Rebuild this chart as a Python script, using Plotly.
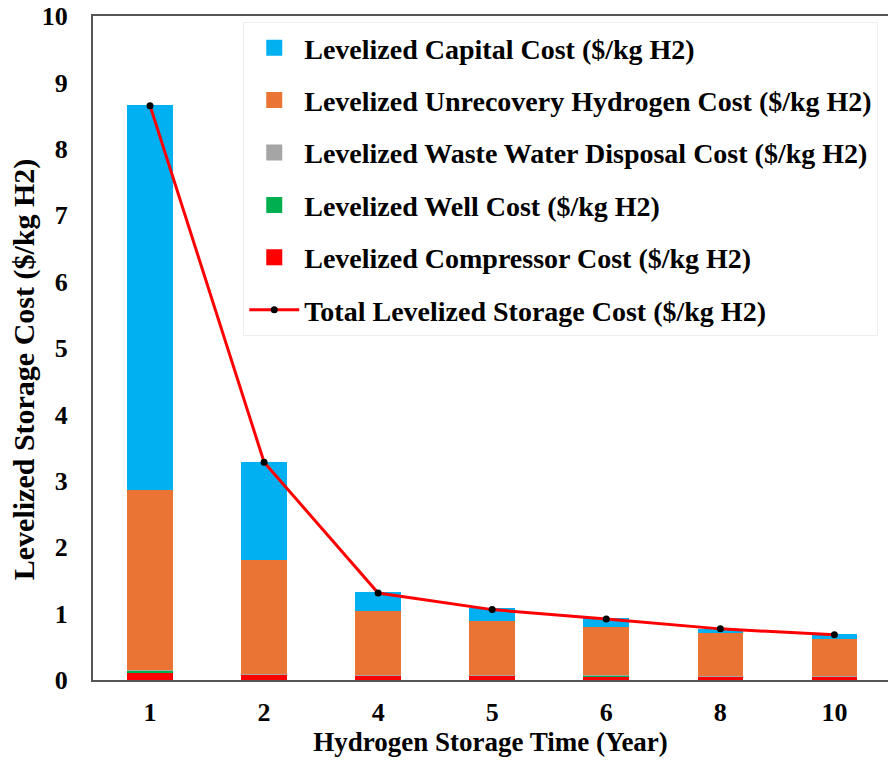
import plotly.graph_objects as go

years = ["1", "2", "4", "5", "6", "8", "10"]
capital = [5.81, 1.48, 0.28, 0.19, 0.14, 0.07, 0.07]
unrecovery = [2.71, 1.72, 0.97, 0.82, 0.73, 0.65, 0.57]
waste_water = [0.005, 0.003, 0.002, 0.002, 0.002, 0.002, 0.002]
well = [0.02, 0.005, 0.005, 0.003, 0.008, 0.003, 0.003]
compressor = [0.12, 0.08, 0.065, 0.065, 0.06, 0.05, 0.05]
total = [8.65, 3.28, 1.31, 1.06, 0.92, 0.77, 0.68]

FONT = "Liberation Serif"

fig = go.Figure()
series = [
    ("Levelized Compressor Cost ($/kg H2)", compressor, "#FF0000", 5),
    ("Levelized Well Cost ($/kg H2)", well, "#00B050", 4),
    ("Levelized Waste Water Disposal Cost ($/kg H2)", waste_water, "#A5A5A5", 3),
    ("Levelized Unrecovery Hydrogen Cost ($/kg H2)", unrecovery, "#E97434", 2),
    ("Levelized Capital Cost ($/kg H2)", capital, "#00B0F0", 1),
]
for name, vals, col, rank in series:
    fig.add_trace(go.Bar(
        x=years, y=vals, name=name, marker=dict(color=col, line=dict(width=0)),
        width=0.4, showlegend=False, legendgroup=name,
    ))
    # legend entry with a larger square swatch
    fig.add_trace(go.Scatter(
        x=[None], y=[None], name=name, mode="markers",
        marker=dict(symbol="square", color=col, size=16),
        legendrank=rank, legendgroup=name, showlegend=True,
    ))
fig.add_trace(go.Scatter(
    x=years, y=total, name="Total Levelized Storage Cost ($/kg H2)",
    mode="lines+markers", line=dict(color="#FF0000", width=3),
    marker=dict(color="black", size=7), legendrank=6,
    legendgroup="total",
))

fig.update_layout(
    width=888, height=762,
    barmode="stack",
    plot_bgcolor="white", paper_bgcolor="white",
    margin=dict(l=93, r=0, t=16, b=82),
    font=dict(family=FONT, color="black", size=20),
    showlegend=True,
    legend=dict(
        x=0.189, y=0.991, xanchor="left", yanchor="top",
        bgcolor="white", bordercolor="#EEEEEE", borderwidth=1,
        font=dict(family=FONT, size=28, color="black", weight="bold"),
        traceorder="grouped", tracegroupgap=13,
        itemsizing="trace", itemwidth=50,
    ),
    xaxis=dict(
        type="category", range=[-0.5, 6.47], automargin=False,
        showline=True, linecolor="#555555", linewidth=2, mirror=True,
        ticks="", showgrid=False,
        tickfont=dict(family=FONT, size=26, weight="bold"),
        ticklabelstandoff=8,
        title=dict(text="<b>Hydrogen Storage Time (Year)</b>",
                   font=dict(family=FONT, size=27), standoff=3),
    ),
    yaxis=dict(
        range=[0, 10], dtick=1, automargin=False,
        showline=True, linecolor="#555555", linewidth=2, mirror=False,
        ticks="", showgrid=False, zeroline=False,
        tickfont=dict(family=FONT, size=26, weight="bold"),
        ticklabelstandoff=18, ticklabeloverflow="allow",
    ),
    annotations=[dict(
        text="<b>Levelized Storage Cost ($/kg H2)</b>",
        xref="paper", yref="paper", x=-0.0868, y=0.468,
        xanchor="center", yanchor="middle", textangle=-90,
        showarrow=False, font=dict(family=FONT, size=30, color="black"),
    )],
)

fig.write_html("out.html", config={"displayModeBar": False},
               post_script="document.body.style.margin='0';")
